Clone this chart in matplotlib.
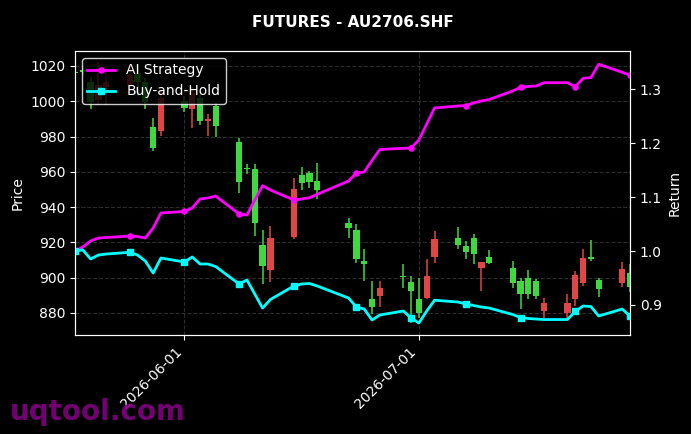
import matplotlib
matplotlib.use("Agg")
import matplotlib.pyplot as plt
import matplotlib.dates as mdates
import numpy as np
import pandas as pd

dates = [
    "2026-05-18", "2026-05-19", "2026-05-20", "2026-05-21", "2026-05-22",
    "2026-05-25", "2026-05-26", "2026-05-27", "2026-05-28", "2026-05-29",
    "2026-06-01", "2026-06-02", "2026-06-03", "2026-06-04", "2026-06-05",
    "2026-06-08", "2026-06-09", "2026-06-10", "2026-06-11", "2026-06-12",
    "2026-06-15", "2026-06-16", "2026-06-17", "2026-06-18",
    "2026-06-22", "2026-06-23", "2026-06-24", "2026-06-25", "2026-06-26",
    "2026-06-29", "2026-06-30", "2026-07-01", "2026-07-02", "2026-07-03",
    "2026-07-06", "2026-07-07", "2026-07-08", "2026-07-09", "2026-07-10",
    "2026-07-13", "2026-07-14", "2026-07-15", "2026-07-16", "2026-07-17",
    "2026-07-20", "2026-07-21", "2026-07-22", "2026-07-23", "2026-07-24",
    "2026-07-27", "2026-07-28",
]

open_ = [1016.5, 1017.8, 1010.9, 1001.0, 1008.0, 1009.0, 1016.0, 1011.0, 985.4, 983.2,
         1000.2, 995.6, 1001.9, 988.8, 997.3, 976.9, 961.8, 961.6, 918.6, 904.4,
         923.1, 958.2, 959.4, 954.8, 931.0, 927.1, 909.5, 888.0, 889.7, 900.8,
         897.6, 888.0, 888.6, 911.8, 922.5, 918.0, 922.5, 905.6, 911.8, 905.6,
         898.2, 899.9, 898.2, 881.2, 880.1, 888.0, 897.1, 911.8, 898.8, 897.1,
         902.7]
high = [1017.5, 1019.0, 1014.0, 1022.0, 1020.0, 1020.0, 1018.0, 1013.0, 990.5, 1006.0,
        1003.0, 1008.0, 1004.0, 992.8, 999.0, 979.2, 964.5, 964.5, 927.1, 929.3,
        956.5, 962.8, 960.5, 965.0, 933.9, 930.5, 916.3, 898.2, 898.2, 907.8,
        901.0, 899.9, 910.7, 926.5, 928.8, 920.8, 924.8, 909.0, 915.8, 909.5,
        899.9, 904.4, 899.3, 888.6, 890.8, 903.9, 916.3, 921.4, 899.9, 909.0,
        908.0]
low = [1014.5, 1015.0, 995.6, 998.0, 998.0, 1006.0, 1003.0, 995.6, 971.8, 980.3,
       994.0, 984.9, 986.6, 980.3, 980.0, 948.0, 958.8, 923.7, 896.5, 897.6,
       922.0, 949.7, 950.9, 944.6, 922.5, 908.4, 898.2, 879.5, 883.5, 894.2,
       874.4, 877.2, 888.0, 908.4, 916.3, 910.7, 907.8, 892.5, 907.8, 894.2,
       882.3, 888.0, 888.0, 877.2, 877.2, 884.0, 895.4, 909.5, 889.1, 894.8,
       892.0]
close = [1015.8, 1016.6, 999.6, 1009.0, 1011.0, 1015.0, 1011.0, 999.6, 973.5, 1001.9,
         996.2, 1004.7, 988.8, 990.0, 986.0, 954.3, 961.4, 931.0, 906.7, 922.5,
         950.3, 953.7, 954.3, 949.7, 928.2, 910.7, 907.8, 883.5, 894.2, 900.2,
         892.5, 880.1, 901.0, 922.0, 918.6, 914.6, 913.5, 909.0, 908.4, 897.1,
         890.8, 890.8, 889.7, 885.7, 885.7, 901.6, 911.2, 910.7, 893.7, 905.0,
         894.8]

ai_strategy = [1.000, 1.0074, 1.0186, 1.0241, 1.0250, 1.0278, 1.0269, 1.0241, 1.0427, 1.0705,
               1.0733, 1.0798, 1.0965, 1.0983, 1.1020, 1.0686, 1.0668, 1.0946, 1.1212, 1.1132,
               1.0946, 1.0965, 1.0989, 1.1052, 1.1299, 1.1447, 1.1466, 1.1679, 1.1883, 1.1905,
               1.1911, 1.2059, 1.2356, 1.2653, 1.2690, 1.2699, 1.2746, 1.2783, 1.2811, 1.2968,
               1.3037, 1.3052, 1.3061, 1.3122, 1.3122, 1.3048, 1.3204, 1.3215, 1.3464, 1.3315,
               1.3265]
buy_hold = [1.000, 1.002, 0.9852, 0.9926, 0.9944, 0.9976, 0.9926, 0.9814, 0.9592, 0.9870,
            0.9796, 0.9889, 0.9759, 0.9759, 0.9712, 0.9388, 0.9462, 0.9202, 0.8942, 0.9100,
            0.9351, 0.9388, 0.9397, 0.9351, 0.9128, 0.8961, 0.8924, 0.8720, 0.8813, 0.8887,
            0.8757, 0.8664, 0.8887, 0.9087, 0.9054, 0.9017, 0.8989, 0.8961, 0.8942, 0.8822,
            0.8766, 0.8748, 0.8738, 0.8729, 0.8729, 0.8878, 0.8980, 0.8970, 0.8794, 0.8924,
            0.8794]

title = "FUTURES - AU2706.SHF"
up_color = "#e04646"
down_color = "#3fd83f"

plt.style.use("dark_background")
fig = plt.figure(figsize=(6.91, 4.34), dpi=100)
ax1 = fig.add_axes([0.1085, 0.2281, 0.8032, 0.6544])
ax2 = ax1.twinx()

x = pd.to_datetime(dates)
o = np.array(open_); h = np.array(high); l = np.array(low); c = np.array(close)
up = c >= o
colors = np.where(up, up_color, down_color)
body_bottom = np.minimum(o, c)
body_h = np.maximum(np.abs(c - o), 0.7)

ax1.vlines(x, l, h, colors=colors, linewidth=1.1, zorder=2)
ax1.bar(x, body_h, bottom=body_bottom, width=0.8, color=colors, edgecolor=colors,
        linewidth=0, zorder=3)

ax1.set_ylim(867.5, 1028.5)
ax1.set_xlim(x[0], x[-1])
ax1.set_ylabel("Price", fontsize=10)
ax1.grid(True, linestyle="--", color="gray", alpha=0.35, linewidth=0.8)
ax1.xaxis.set_major_locator(mdates.MonthLocator())
ax1.xaxis.set_major_formatter(mdates.DateFormatter("%Y-%m-%d"))
plt.setp(ax1.get_xticklabels(), rotation=45, ha="right")

ax2.plot(x, ai_strategy, color="#ff00ff", linewidth=2, marker="o", markersize=3.7,
         markevery=5, label="AI Strategy")
ax2.plot(x, buy_hold, color="#00ffff", linewidth=2, marker="s", markersize=3.7,
         markevery=5, label="Buy-and-Hold")
ax2.set_ylim(0.8442, 1.371)
ax2.set_ylabel("Return", fontsize=10)
ax2.set_xlim(x[0], x[-1])

leg = ax2.legend(loc="upper left", fontsize=10, facecolor="black", edgecolor="white",
                 framealpha=0.8)

for ax in (ax1, ax2):
    for s in ax.spines.values():
        s.set_color("white")

ax1.set_title(title, fontsize=11, fontweight="bold", color="white", pad=17)
fig.text(0.014, 0.032, "uqtool.com", fontsize=20, fontweight="bold", color="#800080",
         alpha=0.9)

fig.savefig("out.png", dpi=100, facecolor="black")
